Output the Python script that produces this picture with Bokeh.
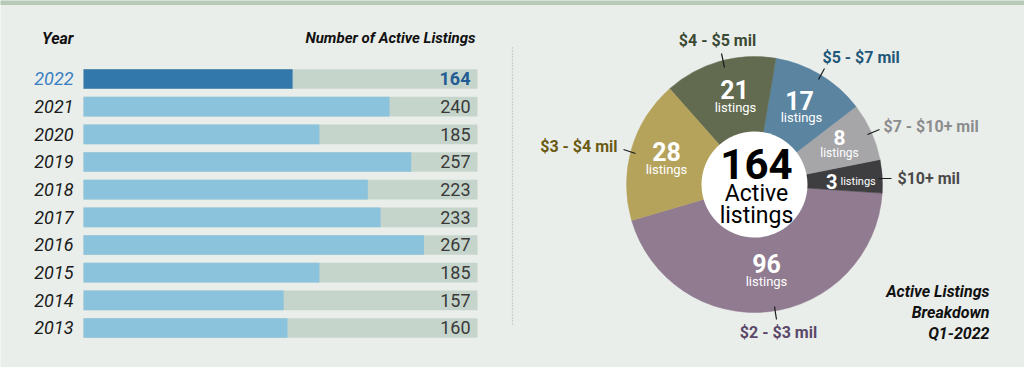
import math
from bokeh.plotting import figure
from bokeh.models import ColumnDataSource, Range1d
from bokeh.core.properties import value
from bokeh.embed import file_html
from bokeh.resources import INLINE

# ---------------- data ----------------
years = ["2022", "2021", "2020", "2019", "2018", "2017", "2016", "2015", "2014", "2013"]
year_nums = [2022, 2021, 2020, 2019, 2018, 2017, 2016, 2015, 2014, 2013]
active_listings = [164, 240, 185, 257, 223, 233, 267, 185, 157, 160]
track_max = 309

segments = ["$2 - $3 mil", "$10+ mil", "$7 - $10+ mil", "$5 - $7 mil", "$4 - $5 mil", "$3 - $4 mil"]
segment_listings = [96, 3, 8, 17, 21, 28]
segment_share_drawn = [44.4, 4.2, 7.3, 11.9, 14.2, 18.0]   # % of the circle as drawn
total_active = 164

# ---------------- styles ----------------
BG = "#eaeeeb"
BAND = "#b7cab7"
FONT = value("Roboto")
seg_colors = ["#907b90", "#3e3e40", "#a6a6a9", "#5a84a0", "#626b4f", "#b5a35c"]
seg_label_colors = ["#5b4868", "#4a4a4a", "#8c8c8e", "#1f5878", "#3b4a33", "#6a5a12"]

# bar-chart ranges (value axis / year axis) spanning the whole canvas
LX0, LX1 = -65.1, 738.0
LY0, LY1 = 2011.572, 2024.837

p = figure(width=1024, height=367, x_range=Range1d(LX0, LX1), y_range=Range1d(LY0, LY1),
           x_axis_type=None, y_axis_type=None, toolbar_location=None, output_backend="svg",
           min_border=0, background_fill_color=BG, border_fill_color=BG,
           outline_line_color=None, title_location=None)
# pixel-like ranges for the donut panel
p.extra_x_ranges = {"px": Range1d(0, 1024)}
p.extra_y_ranges = {"px": Range1d(0, 367)}
PX = dict(x_range_name="px", y_range_name="px")


def Y(ry):
    return 367 - ry


# top band
p.quad(left=[-5], right=[1030], bottom=[Y(4.5)], top=[368], fill_color=BAND, line_color=None, **PX)

# ---------------- left: bar chart ----------------
bar_colors = ["#3278ab"] + ["#8bc2dc"] * (len(years) - 1)
year_colors = ["#3a80c0"] + ["#1a1a1a"] * (len(years) - 1)
src = ColumnDataSource(dict(y=year_nums, v=active_listings, year=years,
                            track=[track_max] * len(years),
                            bc=bar_colors, yc=year_colors))

p.hbar(y="y", left=0, right="track", height=0.71, fill_color="#c6d5cb", line_color=None, source=src)
p.hbar(y="y", left=0, right="v", height=0.71, fill_color="bc", line_color=None, source=src)
p.text(x=0, y="y", text="year", x_offset=-10, text_align="right", text_baseline="middle",
       text_font=FONT, text_font_style="italic", text_font_size=value("18px"),
       text_color="yc", source=src)

hi = ColumnDataSource(dict(y=year_nums[:1], vt=[str(v) for v in active_listings[:1]], track=[track_max]))
lo = ColumnDataSource(dict(y=year_nums[1:], vt=[str(v) for v in active_listings[1:]],
                           track=[track_max] * (len(years) - 1)))
p.text(x="track", y="y", text="vt", x_offset=-7, text_align="right", text_baseline="middle",
       text_font=FONT, text_font_style="bold", text_font_size=value("18px"),
       text_color="#1f5c94", source=hi)
p.text(x="track", y="y", text="vt", x_offset=-7, text_align="right", text_baseline="middle",
       text_font=FONT, text_font_style="normal", text_font_size=value("18px"),
       text_color="#3a3a3a", source=lo)

p.text(x=[0], y=[2023.475], text=["Year"], x_offset=-10, text_align="right", text_baseline="middle",
       text_font=FONT, text_font_style="bold italic", text_font_size=value("16px"), text_color="#111111")
p.text(x=[track_max], y=[2023.475], text=["Number of Active Listings"], x_offset=-2, text_align="right",
       text_baseline="middle", text_font=FONT, text_font_style="bold italic",
       text_font_size=value("15px"), text_color="#111111")

# ---------------- right: donut ----------------
CX, CY = 754, Y(184)
tot = sum(segment_share_drawn)
ang = math.radians(196.3)
starts, ends = [], []
for s in segment_share_drawn:
    starts.append(ang)
    ang += s / tot * 2 * math.pi
    ends.append(ang)
wsrc = ColumnDataSource(dict(s=starts, e=ends, c=seg_colors))
p.wedge(x=CX, y=CY, radius=128, start_angle="s", end_angle="e", direction="anticlock",
        fill_color="c", line_color="c", line_width=0.5, source=wsrc, **PX)
p.circle(x=CX, y=CY, radius=53, fill_color="white", line_color=None, **PX)

# separator
p.segment(x0=[512], y0=[Y(47)], x1=[512], y1=[Y(325)], line_color="#b0b0b0",
          line_width=1.2, line_dash="1 2", **PX)

# centre text
p.text(x=[756], y=[Y(163)], text=[str(total_active)], text_align="center", text_baseline="middle",
       text_font=FONT, text_font_style="bold", text_font_size=value("42px"), text_color="#000000", **PX)
p.text(x=[756], y=[Y(193)], text=["Active"], text_align="center", text_baseline="middle",
       text_font=FONT, text_font_size=value("23px"), text_color="#000000", **PX)
p.text(x=[756], y=[Y(215)], text=["listings"], text_align="center", text_baseline="middle",
       text_font=FONT, text_font_size=value("23px"), text_color="#000000", **PX)

# inside slice labels (order follows segments)
num_pos = [(766, 263, "center"), (837, 181, "right"), (839, 137, "center"),
           (799, 100, "center"), (734, 89, "center"), (666, 151, "center")]
num_size = ["25px", "20px", "21px", "25px", "25px", "25px"]
lst_pos = [(766, 281, "center"), (840, 181, "left"), (839, 152, "center"),
           (801, 117, "center"), (735, 107, "center"), (666, 169, "center")]
lst_size = ["13px", "11px", "12px", "13px", "13px", "13px"]
for i, n in enumerate(segment_listings):
    p.text(x=[num_pos[i][0]], y=[Y(num_pos[i][1])], text=[str(n)], text_align=num_pos[i][2],
           text_baseline="middle", text_font=FONT, text_font_style="bold",
           text_font_size=value(num_size[i]), text_color="white", **PX)
    p.text(x=[lst_pos[i][0]], y=[Y(lst_pos[i][1])], text=["listings"], text_align=lst_pos[i][2],
           text_baseline="middle", text_font=FONT, text_font_size=value(lst_size[i]),
           text_color="white", **PX)

# outer labels + leaders
lab_pos = [(778, 332, "center"), (897, 178, "left"), (883, 126, "left"),
           (822, 57, "left"), (717, 40, "center"), (617, 146, "right")]
leaders = [((774, 306), (776, 319)), ((878, 178), (891, 178)), ((867, 134), (879, 129)),
           ((818, 79), (824, 68)), ((724, 67), (721, 53)), ((635, 153), (623, 149))]
for i, name in enumerate(segments):
    lx, ly, al = lab_pos[i]
    p.text(x=[lx], y=[Y(ly)], text=[name], text_align=al, text_baseline="middle",
           text_font=FONT, text_font_style="bold", text_font_size=value("16px"),
           text_color=seg_label_colors[i], **PX)
    (a, b), (c, d) = leaders[i]
    p.segment(x0=[a], y0=[Y(b)], x1=[c], y1=[Y(d)], line_color="#1a1a1a", line_width=1.2, **PX)

# title bottom right
for txt, ty in [("Active Listings", 291), ("Breakdown", 312), ("Q1-2022", 333)]:
    p.text(x=[989], y=[Y(ty)], text=[txt], text_align="right", text_baseline="middle",
           text_font=FONT, text_font_style="bold italic", text_font_size=value("16px"),
           text_color="#111111", **PX)

open("out.html", "w").write(file_html(p, INLINE))
